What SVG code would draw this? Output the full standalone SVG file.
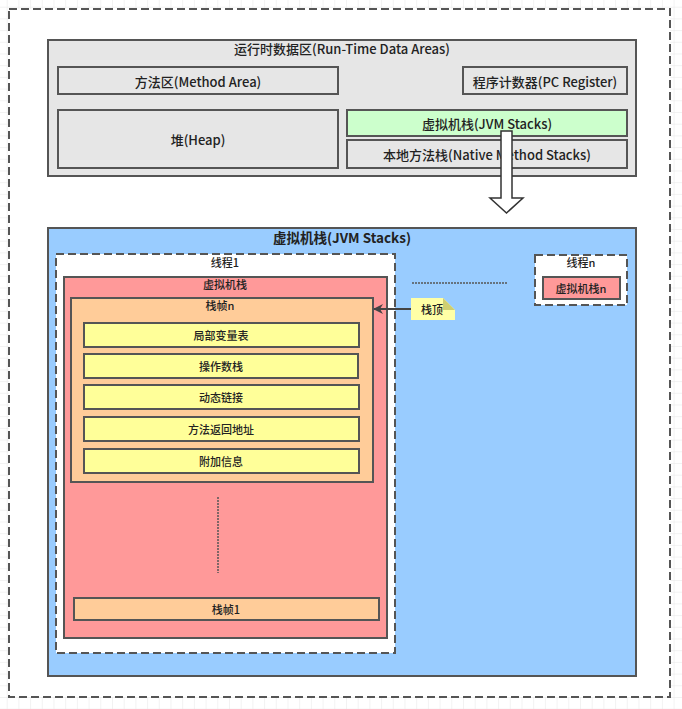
<svg xmlns="http://www.w3.org/2000/svg" width="682" height="709" viewBox="0 0 682 709">
<defs>
<pattern id="grid" x="6.7" y="6.7" width="11.7" height="11.7" patternUnits="userSpaceOnUse">
<path d="M0 0 H11.7 M0 0 V11.7" fill="none" stroke="#e6e6e6" stroke-width="1"/>
</pattern>
<marker id="arr" viewBox="0 0 10 10" refX="9" refY="5" markerWidth="5" markerHeight="5" orient="auto" markerUnits="strokeWidth">
<path d="M0 0 L10 5 L0 10 L3 5 Z" fill="#444"/>
</marker>
<style>
text{font-family:"Noto Sans CJK SC","Liberation Sans",sans-serif;fill:#222;text-anchor:middle;dominant-baseline:central;font-weight:500}
.t13{font-size:13px}
.t11{font-size:11px}
.b{font-weight:bold}
.box{stroke:#555;stroke-width:2}
.dash{fill:#fff;stroke:#555;stroke-width:2;stroke-dasharray:8 4}
.gray{fill:#e6e6e6}
.yel{fill:#ffff99}
.org{fill:#ffcc99}
.red{fill:#ff9999}
</style>
</defs>
<rect width="682" height="709" fill="#fff"/>
<rect width="682" height="709" fill="url(#grid)"/>
<rect id="frame" x="9" y="9" width="661" height="688" class="dash"/>

<g id="runtime">
<rect x="48" y="40" width="588" height="136" class="box gray"/>
<text x="342" y="48" class="t13">运行时数据区(Run-Time Data Areas)</text>
</g>
<g id="method-area">
<rect x="58" y="67" width="280" height="27" class="box gray"/>
<text x="198" y="81" class="t13">方法区(Method Area)</text>
</g>
<g id="pc-register">
<rect x="463" y="67" width="164" height="27" class="box gray"/>
<text x="545" y="81" class="t13">程序计数器(PC Register)</text>
</g>
<g id="heap">
<rect x="58" y="110" width="280" height="58" class="box gray"/>
<text x="198" y="139" class="t13">堆(Heap)</text>
</g>
<g id="jvm-stacks-top">
<rect x="347" y="110" width="280" height="26" class="box" fill="#ccffcc"/>
<text x="487" y="123" class="t13">虚拟机栈(JVM Stacks)</text>
</g>
<g id="native-stacks">
<rect x="347" y="140" width="280" height="28" class="box gray"/>
<text x="487" y="154" class="t13">本地方法栈(Native Method Stacks)</text>
</g>

<g id="jvm-stacks">
<rect x="48" y="228" width="588" height="448" class="box" fill="#99ccff"/>
<text x="342" y="237" class="b" font-size="13.5">虚拟机栈(JVM Stacks)</text>
</g>
<g id="thread1">
<rect x="56" y="254" width="339" height="399" class="dash"/>
<text x="225" y="262" class="t11">线程1</text>
</g>
<g id="vm-stack1">
<rect x="64" y="277" width="323" height="361" class="box red"/>
<text x="225" y="284" class="t11">虚拟机栈</text>
</g>
<g id="frame-n">
<rect x="71" y="298" width="302" height="184" class="box org"/>
<text x="220" y="305" class="t11">栈帧n</text>
</g>
<g id="local-vars">
<rect x="84" y="323" width="275" height="24" class="box yel"/>
<text x="221" y="335" class="t11">局部变量表</text>
</g>
<g id="operand-stack">
<rect x="84" y="354" width="274" height="24" class="box yel"/>
<text x="221" y="366" class="t11">操作数栈</text>
</g>
<g id="dynamic-link">
<rect x="84" y="385" width="275" height="24" class="box yel"/>
<text x="221" y="397" class="t11">动态链接</text>
</g>
<g id="return-addr">
<rect x="84" y="417" width="275" height="24" class="box yel"/>
<text x="221" y="429" class="t11">方法返回地址</text>
</g>
<g id="extra-info">
<rect x="84" y="449" width="275" height="24" class="box yel"/>
<text x="221" y="461" class="t11">附加信息</text>
</g>
<g id="frame-1">
<rect x="74" y="598" width="305" height="22" class="box org"/>
<text x="226" y="609" class="t11">栈帧1</text>
</g>
<g id="thread-n">
<rect x="535" y="255" width="92" height="50" class="dash"/>
<text x="581" y="262" class="t11">线程n</text>
</g>
<g id="vm-stack-n">
<rect x="543" y="277" width="77" height="22" class="box red"/>
<text x="581" y="288" class="t11">虚拟机栈n</text>
</g>
<g id="stack-top-note">
<path d="M411 298 H443 L455 310 V320 H411 Z" fill="#ffffa6"/>
<path d="M443 298 L455 310 H443 Z" fill="#cfcf72"/>
<text x="432" y="309" class="t11">栈顶</text>
</g>

<g id="connectors">
<line x1="218" y1="497" x2="218" y2="573" stroke="#555" stroke-width="1.5" stroke-dasharray="2 1"/>
<line x1="412" y1="283" x2="507" y2="283" stroke="#555" stroke-width="1.5" stroke-dasharray="2 1"/>
<line x1="411" y1="309" x2="374" y2="309" stroke="#444" stroke-width="2" marker-end="url(#arr)"/>
<path d="M501 131 H512 V198 H523 L506.5 213 L490 198 H501 Z" fill="#fff" stroke="#333" stroke-width="1.5"/>
</g>
</svg>
